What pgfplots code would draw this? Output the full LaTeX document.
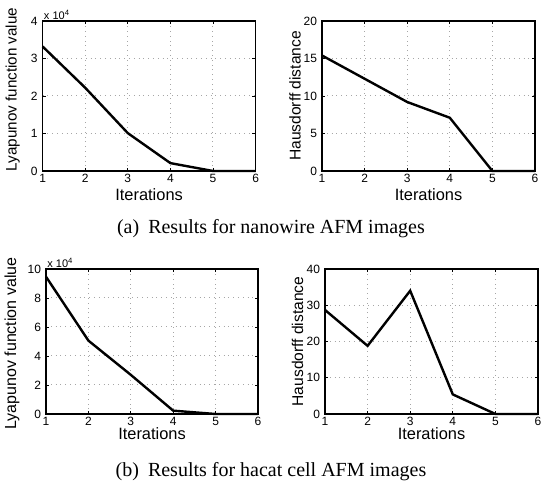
\documentclass[border=0pt]{standalone}
\usepackage{fontspec}
\setmainfont{Liberation Sans}
\newfontfamily\capfont{Liberation Serif}
\usepackage{pgfplots}
\pgfplotsset{compat=1.18}
\pgfplotsset{
  mystyle/.style={
    scale only axis,
    anchor=south west,
    clip=false,
    xmin=1, xmax=6, xtick={1,2,3,4,5,6},
    grid=major,
    grid style={dotted, line width=0.5pt, gray!70},
    axis line style={black, line width=0.6pt},
    major tick length=1.6pt,
    tick style={black, line width=0.4pt},
    tick label style={font=\fontsize{6}{7}\selectfont},
    /pgf/number format/assume math mode=true,
    xticklabel style={inner sep=1pt, yshift=-0.5pt},
    yticklabel style={xshift=1pt},
  },
  myline/.style={black, line width=1.2pt, mark=none},
}
\begin{document}
\begin{tikzpicture}
\path[use as bounding box] (0pt,0pt) rectangle (271pt,243.5pt);
% (a) left
\begin{axis}[mystyle,
  at={(21.3pt,158pt)}, width=106.5pt, height=75pt,
  ymin=0, ymax=40000, ytick={0,10000,20000,30000,40000},
  yticklabels={0,1,2,3,4}, scaled y ticks=false,
  xlabel={Iterations},
  xlabel style={at={(rel axis cs:0.5,0)}, anchor=center, inner sep=1pt, yshift=-11.8pt, font=\fontsize{8.2}{9}\selectfont},
  ylabel={Lyapunov function value},
  ylabel style={at={(rel axis cs:0,0.5)}, anchor=center, yshift=15pt, xshift=3.3pt, font=\fontsize{7.6}{9}\selectfont},
]
\addplot[myline] coordinates {(1,33200) (2,22200) (3,10100) (4,2100) (5,0) (6,0)};
\node[anchor=south west, inner sep=0.5pt, font=\fontsize{5.5}{6}\selectfont] at (rel axis cs:0,1) {x 10\textsuperscript{4}};
\end{axis}
% (a) right
\begin{axis}[mystyle,
  at={(161pt,158pt)}, width=106.5pt, height=75pt,
  ymin=0, ymax=20, ytick={0,5,10,15,20},
  xlabel={Iterations},
  xlabel style={at={(rel axis cs:0.5,0)}, anchor=center, inner sep=1pt, yshift=-11.8pt, font=\fontsize{8.2}{9}\selectfont},
  ylabel={Hausdorff distance},
  ylabel style={at={(rel axis cs:0,0.5)}, anchor=center, yshift=13.5pt, font=\fontsize{7.8}{9}\selectfont},
]
\addplot[myline] coordinates {(1,15.4) (2,12.3) (3,9.2) (4,7.1) (5,0) (6,0)};
\end{axis}
% (b) left
\begin{axis}[mystyle,
  at={(23pt,36.5pt)}, width=106pt, height=72.5pt,
  ymin=0, ymax=100000, ytick={0,20000,40000,60000,80000,100000},
  yticklabels={0,2,4,6,8,10}, scaled y ticks=false,
  xlabel={Iterations},
  xlabel style={at={(rel axis cs:0.5,0)}, anchor=center, inner sep=1pt, yshift=-9.8pt, font=\fontsize{8.2}{9}\selectfont},
  ylabel={Lyapunov function value},
  ylabel style={at={(rel axis cs:0,0.5)}, anchor=center, yshift=17pt, xshift=-1pt, font=\fontsize{8}{9}\selectfont},
]
\addplot[myline] coordinates {(1,94700) (2,50600) (3,27000) (4,2300) (5,0) (6,0)};
\node[anchor=south west, inner sep=0.5pt, font=\fontsize{5.5}{6}\selectfont] at (rel axis cs:0,1) {x 10\textsuperscript{4}};
\end{axis}
% (b) right
\begin{axis}[mystyle,
  at={(162.5pt,36.5pt)}, width=106.5pt, height=72.5pt,
  ymin=0, ymax=40, ytick={0,10,20,30,40},
  xlabel={Iterations},
  xlabel style={at={(rel axis cs:0.5,0)}, anchor=center, inner sep=1pt, yshift=-9.8pt, font=\fontsize{8.2}{9}\selectfont},
  ylabel={Hausdorff distance},
  ylabel style={at={(rel axis cs:0,0.5)}, anchor=center, yshift=13.7pt, font=\fontsize{7.8}{9}\selectfont},
]
\addplot[myline] coordinates {(1,28.7) (2,18.8) (3,34.0) (4,5.4) (5,0) (6,0)};
\end{axis}
\node[font=\capfont\fontsize{10}{12}\selectfont, anchor=center] at (135.5pt,129.3pt) {(a)\hspace{0.45em}Results for nanowire AFM images};
\node[font=\capfont\fontsize{10}{12}\selectfont, anchor=center] at (135.5pt,7.8pt) {(b)\hspace{0.45em}Results for hacat cell AFM images};
\end{tikzpicture}
\end{document}
